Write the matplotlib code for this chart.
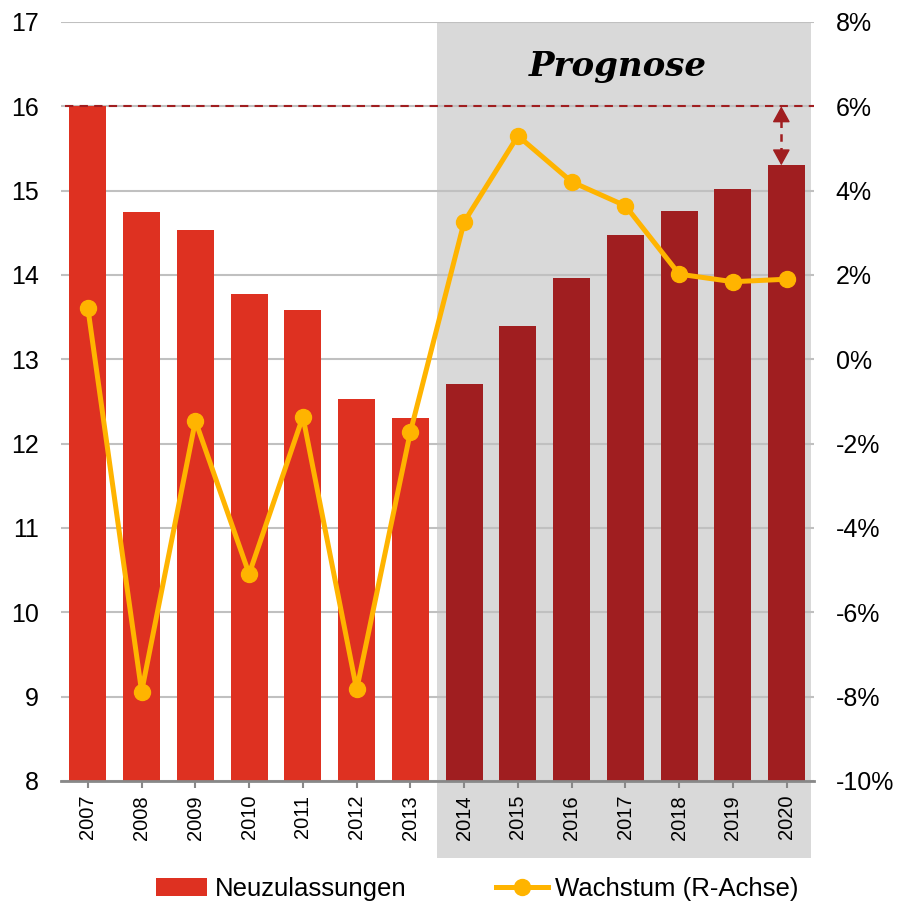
import matplotlib
matplotlib.use('Agg')
import matplotlib.pyplot as plt
import matplotlib.transforms as mtransforms
from matplotlib.patches import Rectangle, Patch
from matplotlib.lines import Line2D

# Data
years = ['2007', '2008', '2009', '2010', '2011', '2012', '2013',
         '2014', '2015', '2016', '2017', '2018', '2019', '2020']
neuzulassungen = [16.0, 14.75, 14.53, 13.78, 13.59, 12.53, 12.31,
                  12.71, 13.39, 13.96, 14.47, 14.76, 15.02, 15.30]
wachstum = [1.21, -7.88, -1.46, -5.09, -1.36, -7.83, -1.72,
            3.26, 5.30, 4.21, 3.64, 2.02, 1.84, 1.90]
n_actual = 7  # 2007-2013 actual, rest forecast

RED = '#DE3121'
DARKRED = '#A01E20'
YELLOW = '#FFB400'
BAND = '#D9D9D9'
GRID = '#C0C0C0'

plt.rcParams['font.family'] = ['Liberation Sans', 'DejaVu Sans']

fig = plt.figure(figsize=(8.97, 9.01), dpi=100)
ax = fig.add_axes([0.068, 0.1332, 0.839, 0.8424])
ax2 = ax.twinx()

x = list(range(len(years)))
colors = [RED if i < n_actual else DARKRED for i in x]

# forecast band (reaches below the axis into the labels)
trans = mtransforms.blended_transform_factory(ax.transData, ax.transAxes)
band = Rectangle((n_actual - 0.5, -0.101), len(years) - n_actual - 0.05, 1.101,
                 transform=trans, facecolor=BAND, edgecolor='none',
                 clip_on=False, zorder=0)
ax.add_patch(band)

ax.set_axisbelow(True)
ax.yaxis.grid(True, color=GRID, linewidth=1.5, zorder=1)
ax.bar(x, neuzulassungen, width=0.69, color=colors, zorder=2)

ax.set_xlim(-0.5, len(years) - 0.5)
ax.set_ylim(8, 17)
ax.set_yticks(range(8, 18))
ax.set_xticks(x)
ax.set_xticklabels(years, rotation=90, fontsize=14.5)
ax.tick_params(axis='y', length=0, labelsize=18, pad=16)
ax.tick_params(axis='x', length=5, width=1.5, color='#888888', pad=5)

for s in ['top', 'left', 'right']:
    ax.spines[s].set_visible(False)
    ax2.spines[s].set_visible(False)
ax.spines['bottom'].set_color('#888888')
ax.spines['bottom'].set_linewidth(2)
ax2.spines['bottom'].set_visible(False)

# growth line on right axis
ax2.plot(x, wachstum, color=YELLOW, linewidth=3.6, marker='o',
         markersize=11.5, zorder=5)
ax2.set_ylim(-10, 8)
ax2.set_yticks(range(-10, 9, 2))
ax2.set_yticklabels([f'{v}%' for v in range(-10, 9, 2)])
ax2.tick_params(axis='y', length=0, labelsize=18, pad=16)

# dashed reference line at 2007 level and the gap arrow to 2020
ref = neuzulassungen[0]
last = neuzulassungen[-1]
xa = x[-1] - 0.1
head = 0.16
ax.axhline(ref, xmin=0.005, color=DARKRED, linewidth=1.5,
           dashes=(4, 3), zorder=3)
ax.plot([xa, xa], [ref - head, last + head], color=DARKRED, linewidth=1.8,
        dashes=(3, 2.5), zorder=4)
for tip, base in [(ref, ref - head), (last, last + head)]:
    ax.annotate('', xy=(xa, tip), xytext=(xa, base),
                arrowprops=dict(arrowstyle='-|>,head_length=1.0,head_width=0.55',
                                color=DARKRED, linewidth=1.0,
                                shrinkA=0, shrinkB=0),
                zorder=4)

ax.text(0.74, 0.942, 'Prognose', transform=ax.transAxes, ha='center',
        va='center', fontsize=24.5, fontweight='bold', fontstyle='italic',
        family='DejaVu Serif', zorder=6)

handles = [Patch(facecolor=RED, edgecolor='none'),
           Line2D([0], [0], color=YELLOW, linewidth=3.6, marker='o',
                  markersize=11.5)]
fig.legend(handles, ['Neuzulassungen', 'Wachstum (R-Achse)'],
           loc='lower center', bbox_to_anchor=(0.532, -0.026), ncol=2,
           frameon=False, fontsize=18.5, handlelength=2.0, handletextpad=0.3,
           columnspacing=3.5)

fig.savefig('out.png', dpi=100)
